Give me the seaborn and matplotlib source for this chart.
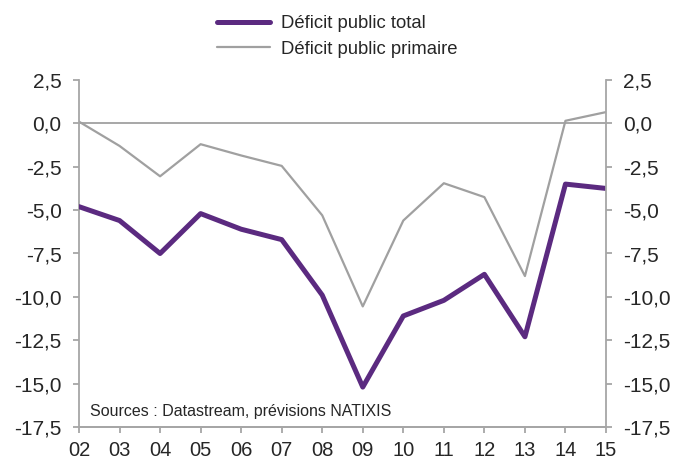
import pandas as pd
import matplotlib
matplotlib.use("Agg")
import matplotlib.pyplot as plt
import seaborn as sns

years = ["02", "03", "04", "05", "06", "07", "08", "09", "10", "11", "12", "13", "14", "15"]
deficit_total = [-4.8, -5.6, -7.5, -5.2, -6.1, -6.7, -9.9, -15.2, -11.1, -10.2, -8.7, -12.3, -3.5, -3.75]
deficit_primaire = [0.1, -1.3, -3.05, -1.2, -1.85, -2.45, -5.3, -10.55, -5.6, -3.45, -4.25, -8.8, 0.15, 0.65]
yticks = [2.5, 0.0, -2.5, -5.0, -7.5, -10.0, -12.5, -15.0, -17.5]

PURPLE = "#5b2a80"
GREY = "#a0a0a0"
SPINE = "#a6a6a6"

sns.set_style("white")
plt.rcParams["font.family"] = ["Liberation Sans", "DejaVu Sans"]
plt.rcParams["font.size"] = 12

df = pd.DataFrame({"x": range(len(years)), "total": deficit_total, "primaire": deficit_primaire})

fig = plt.figure(figsize=(6.77, 4.61), dpi=100)
ax = fig.add_axes([79 / 677, 1 - 427 / 461, (606 - 79) / 677, (427 - 80) / 461])

ax.axhline(0, color=GREY, lw=1.3, zorder=1)
sns.lineplot(data=df, x="x", y="total", ax=ax, color=PURPLE, lw=3.6, label="Déficit public total", zorder=3)
sns.lineplot(data=df, x="x", y="primaire", ax=ax, color=GREY, lw=1.6, label="Déficit public primaire", zorder=2)

ylabels = [f"{v:.1f}".replace(".", ",") for v in yticks]

ax.set_xlim(0, len(years) - 1)
ax.set_ylim(-17.5, 2.5)
ax.set_xticks(range(len(years)))
ax.set_xticklabels(years, fontsize=14.5)
ax.set_yticks(yticks)
ax.set_yticklabels(ylabels, fontsize=15)
ax.set_xlabel("")
ax.set_ylabel("")

ax2 = ax.twinx()
ax2.set_ylim(-17.5, 2.5)
ax2.set_yticks(yticks)
ax2.set_yticklabels(ylabels, fontsize=15)

for a in (ax, ax2):
    for s in a.spines.values():
        s.set_color(SPINE)
        s.set_linewidth(1.3)
    a.spines["top"].set_visible(False)
    a.tick_params(length=4.5, width=1.3, color=SPINE, direction="out", pad=8)
ax.spines["right"].set_visible(False)
ax2.spines["left"].set_visible(False)
ax.tick_params(axis="y", left=True)
ax.tick_params(axis="x", bottom=True, pad=5.5)
ax2.tick_params(axis="y", right=True)

ax.text(0.021, 0.045, "Sources : Datastream, prévisions NATIXIS", fontsize=11.5, va="center",
        transform=ax.transAxes)

ax.legend(loc="upper center", bbox_to_anchor=(337 / 677, 1 - 6 / 461), bbox_transform=fig.transFigure,
          frameon=False, fontsize=13.3, handlelength=2.9, handletextpad=0.55, labelspacing=0.45,
          borderaxespad=0.1)

fig.savefig("out.png", dpi=100)
